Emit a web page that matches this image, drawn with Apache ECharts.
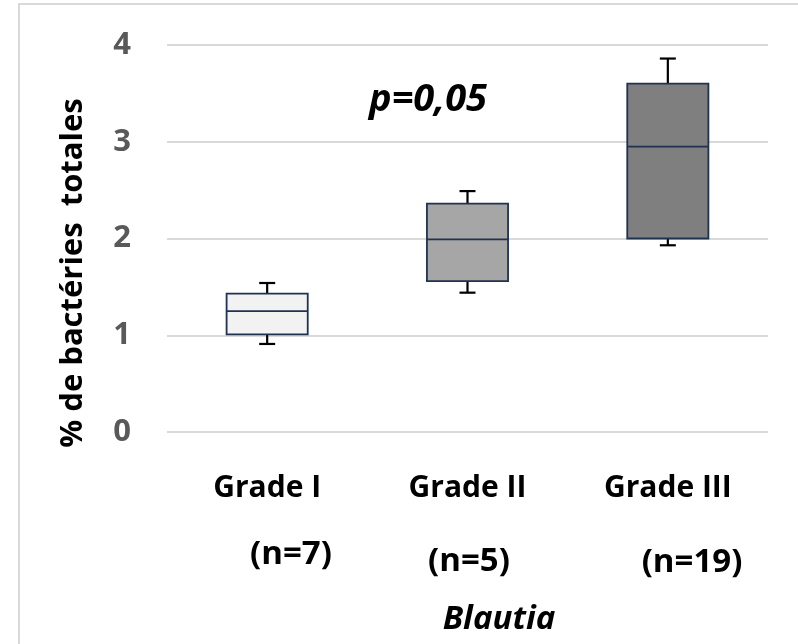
<!DOCTYPE html>
<html>
<head>
<meta charset="utf-8">
<script src="https://cdn.jsdelivr.net/npm/echarts@6/dist/echarts.min.js"></script>
<style>html,body{margin:0;padding:0;background:#fff;}#c{width:798px;height:644px;}</style>
</head>
<body>
<div id="c"></div>
<script>
var categories = ['Grade I', 'Grade II', 'Grade III'];
var nLabels = ['(n=7)', '(n=5)', '(n=19)'];
var mins = [0.91, 1.44, 1.93];
var q1s = [1.01, 1.56, 2.00];
var medians = [1.25, 1.99, 2.95];
var q3s = [1.43, 2.36, 3.60];
var maxs = [1.54, 2.49, 3.86];
var fills = ['#f2f2f2', '#a6a6a6', '#7f7f7f'];
var yTicks = [0, 1, 2, 3, 4];
var yAxisTitle = '% de bactéries  totales';
var xAxisTitle = 'Blautia';
var pText = 'p=0,05';

var data = categories.map(function (c, i) {
  return [i, mins[i], q1s[i], medians[i], q3s[i], maxs[i]];
});

var chart = echarts.init(document.getElementById('c'));
var FONT = '"Open Sans", sans-serif';

chart.setOption({
  animation: false,
  backgroundColor: '#ffffff',
  grid: { left: 167, right: 30, top: 45, bottom: 212 },
  xAxis: {
    type: 'category',
    data: categories,
    axisLine: { show: false },
    axisTick: { show: false },
    axisLabel: { fontFamily: FONT, fontWeight: 'bold', fontSize: 30, color: '#000', margin: 41 }
  },
  yAxis: {
    type: 'value',
    min: yTicks[0],
    max: yTicks[yTicks.length - 1],
    interval: 1,
    axisLine: { show: false },
    axisTick: { show: false },
    splitLine: { lineStyle: { color: '#d9d9d9', width: 2 } },
    axisLabel: { fontFamily: FONT, fontWeight: 'bold', fontSize: 31, color: '#595959', margin: 36 }
  },
  series: [{
    type: 'custom',
    data: data,
    encode: { x: 0, y: [1, 2, 3, 4, 5] },
    renderItem: function (params, api) {
      var idx = api.value(0);
      var bw = api.size([1, 0])[0] * 0.405;
      var pMin = api.coord([idx, api.value(1)]);
      var pQ1 = api.coord([idx, api.value(2)]);
      var pMed = api.coord([idx, api.value(3)]);
      var pQ3 = api.coord([idx, api.value(4)]);
      var pMax = api.coord([idx, api.value(5)]);
      var cx = pMed[0];
      var capW = 16;
      var wStyle = { stroke: '#000', lineWidth: 2.2 };
      var bStyle = { stroke: '#1f3350', lineWidth: 1.8 };
      return {
        type: 'group',
        children: [
          { type: 'line', shape: { x1: cx, y1: pQ3[1], x2: cx, y2: pMax[1] }, style: wStyle },
          { type: 'line', shape: { x1: cx - capW / 2, y1: pMax[1], x2: cx + capW / 2, y2: pMax[1] }, style: wStyle },
          { type: 'line', shape: { x1: cx, y1: pQ1[1], x2: cx, y2: pMin[1] }, style: wStyle },
          { type: 'line', shape: { x1: cx - capW / 2, y1: pMin[1], x2: cx + capW / 2, y2: pMin[1] }, style: wStyle },
          { type: 'rect', shape: { x: cx - bw / 2, y: pQ3[1], width: bw, height: pQ1[1] - pQ3[1] },
            style: { fill: fills[idx], stroke: bStyle.stroke, lineWidth: bStyle.lineWidth } },
          { type: 'line', shape: { x1: cx - bw / 2, y1: pMed[1], x2: cx + bw / 2, y2: pMed[1] }, style: bStyle }
        ]
      };
    }
  }],
  graphic: [
    { type: 'rect', shape: { x: 19, y: 4, width: 820, height: 700 }, style: { fill: 'none', stroke: '#d9d9d9', lineWidth: 2 }, silent: true },
    { type: 'text', x: 73, y: 273, rotation: Math.PI / 2,
      style: { text: yAxisTitle, font: 'bold 31px ' + FONT, fill: '#000', textAlign: 'center', textVerticalAlign: 'middle' } },
    { type: 'text', x: 428, y: 100,
      style: { text: pText, font: 'italic bold 38px ' + FONT, fill: '#000', textAlign: 'center', textVerticalAlign: 'middle' } },
    { type: 'text', x: 291, y: 555,
      style: { text: nLabels[0], font: 'bold 33px ' + FONT, fill: '#000', textAlign: 'center', textVerticalAlign: 'middle' } },
    { type: 'text', x: 469, y: 562,
      style: { text: nLabels[1], font: 'bold 33px ' + FONT, fill: '#000', textAlign: 'center', textVerticalAlign: 'middle' } },
    { type: 'text', x: 692, y: 563,
      style: { text: nLabels[2], font: 'bold 33px ' + FONT, fill: '#000', textAlign: 'center', textVerticalAlign: 'middle' } },
    { type: 'text', x: 499, y: 620,
      style: { text: xAxisTitle, font: 'italic bold 33px ' + FONT, fill: '#000', textAlign: 'center', textVerticalAlign: 'middle' } }
  ]
});
</script>
</body>
</html>
